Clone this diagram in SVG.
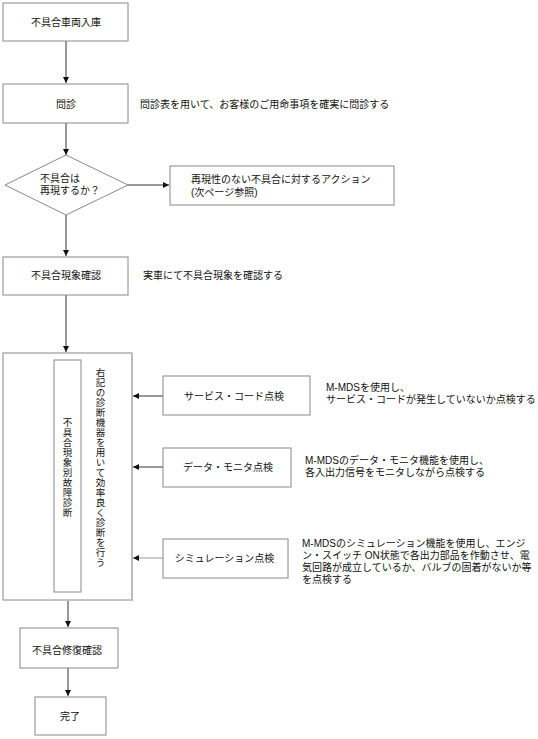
<svg xmlns="http://www.w3.org/2000/svg" width="538" height="739" viewBox="0 0 538 739">
<defs>
<style>
text{font-family:"Liberation Sans","Noto Sans CJK JP",sans-serif;font-size:10px;fill:#111;dominant-baseline:central}
.box{fill:#fff;stroke:#888;stroke-width:1}
.c{text-anchor:middle}
.ln{stroke:#333;stroke-width:1;fill:none}
.vt{writing-mode:vertical-rl;font-size:9.5px;letter-spacing:0.5px}
</style>
<marker id="ah" viewBox="0 0 10 10" refX="10" refY="5" markerWidth="6" markerHeight="6" markerUnits="userSpaceOnUse" orient="auto">
<path d="M0,0 L10,5 L0,10 z" fill="#111"/>
</marker>
</defs>
<rect width="538" height="739" fill="#fff"/>
<g id="connectors">
<line class="ln" x1="66" y1="41" x2="66" y2="83" marker-end="url(#ah)"/>
<line class="ln" x1="66" y1="123" x2="66" y2="155" marker-end="url(#ah)"/>
<line class="ln" x1="128" y1="185" x2="169" y2="185" marker-end="url(#ah)"/>
<line class="ln" x1="66" y1="215" x2="66" y2="256" marker-end="url(#ah)"/>
<line class="ln" x1="66" y1="295" x2="66" y2="352" marker-end="url(#ah)"/>
<line class="ln" x1="163" y1="396" x2="133" y2="396" marker-end="url(#ah)"/>
<line class="ln" x1="163" y1="467" x2="133" y2="467" marker-end="url(#ah)"/>
<line class="ln" x1="163" y1="558" x2="133" y2="558" marker-end="url(#ah)" style="stroke:#999"/>
<line class="ln" x1="68" y1="601" x2="68" y2="627" marker-end="url(#ah)"/>
<line class="ln" x1="68" y1="668" x2="68" y2="696" marker-end="url(#ah)"/>
</g>
<g id="n1"><rect class="box" x="3" y="3" width="125" height="38"/><text class="c" x="66" y="22">不具合車両入庫</text></g>
<g id="n2"><rect class="box" x="3" y="84" width="125" height="39"/><text class="c" x="66" y="104">問診</text></g>
<g id="n2note"><text x="140" y="104">問診表を用いて、お客様のご用命事項を確実に問診する</text></g>
<g id="n3"><polygon class="box" points="66,155 128,185 66,215 5,185"/><text><tspan x="40" y="177.5">不具合は</tspan><tspan x="40" y="189.5">再現するか？</tspan></text></g>
<g id="n4"><rect class="box" x="170" y="166" width="224" height="39"/><text><tspan x="191" y="179">再現性のない不具合に対するアクション</tspan><tspan x="191" y="192">(次ページ参照)</tspan></text></g>
<g id="n5"><rect class="box" x="3" y="257" width="125" height="38"/><text class="c" x="66" y="275">不具合現象確認</text></g>
<g id="n5note"><text x="143" y="275">実車にて不具合現象を確認する</text></g>
<g id="n6">
<rect class="box" x="3" y="353" width="129" height="247"/>
<line x1="132" y1="353" x2="132" y2="601" stroke="#bbb" stroke-width="2"/>
<rect class="box" x="54" y="360" width="27" height="232"/>
<text class="vt" x="67" y="418">不具合現象別故障診断</text>
<text class="vt" x="100" y="368">右記の診断機器を用いて効率良く診断を行う</text>
</g>
<g id="n7"><rect class="box" x="163" y="376" width="147" height="39"/><text class="c" x="234" y="396">サービス・コード点検</text></g>
<g id="n7note"><text><tspan x="326" y="387">M-MDSを使用し、</tspan><tspan x="326" y="399">サービス・コードが発生していないか点検する</tspan></text></g>
<g id="n8"><rect class="box" x="163" y="448" width="128" height="39"/><text class="c" x="228" y="467">データ・モニタ点検</text></g>
<g id="n8note"><text><tspan x="305" y="460">M-MDSのデータ・モニタ機能を使用し、</tspan><tspan x="305" y="472">各入出力信号をモニタしながら点検する</tspan></text></g>
<g id="n9"><rect class="box" x="163" y="539" width="125" height="39"/><text class="c" x="224.5" y="558">シミュレーション点検</text></g>
<g id="n9note"><text><tspan x="302" y="543">M-MDSのシミュレーション機能を使用し、エンジ</tspan><tspan x="302" y="555">ン・スイッチ ON状態で各出力部品を作動させ、電</tspan><tspan x="302" y="567">気回路が成立しているか、バルブの固着がないか等</tspan><tspan x="302" y="579">を点検する</tspan></text></g>
<g id="n10"><rect class="box" x="20" y="628" width="98" height="40"/><text class="c" x="67" y="650">不具合修復確認</text></g>
<g id="n11"><rect class="box" x="35" y="697" width="71" height="38"/><text class="c" x="70" y="716">完了</text></g>
</svg>
